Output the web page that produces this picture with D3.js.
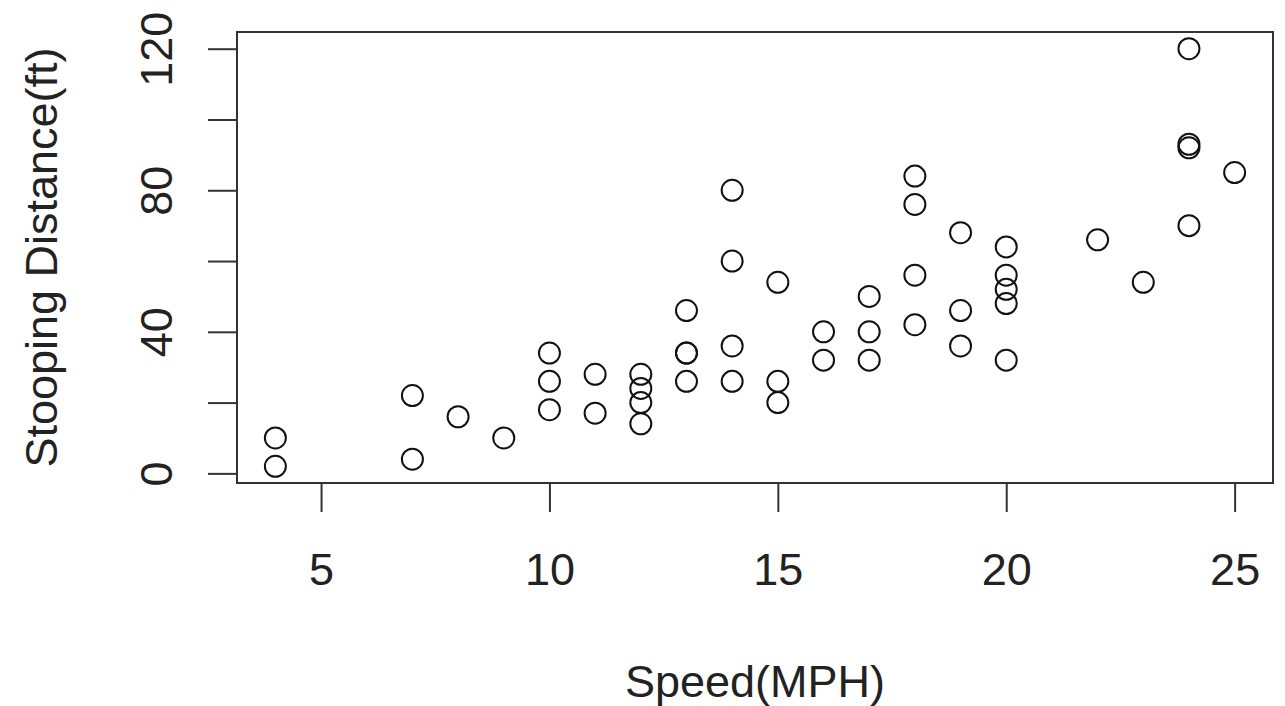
<!DOCTYPE html>
<html>
<head>
<meta charset="utf-8">
<script src="https://cdn.jsdelivr.net/npm/d3@7"></script>
<style>
  html, body { margin: 0; padding: 0; background: #fff; }
  svg { display: block; }
  text { font-family: "Liberation Sans", Arial, Helvetica, sans-serif; fill: #222; }
</style>
</head>
<body>
<svg id="chart" width="1285" height="706"></svg>
<script>
const speed = [4, 4, 7, 7, 8, 9, 10, 10, 10, 11, 11, 12, 12, 12, 12, 13, 13, 13, 13, 14, 14, 14, 14, 15, 15, 15, 16, 16, 17, 17, 17, 18, 18, 18, 18, 19, 19, 19, 20, 20, 20, 20, 20, 22, 23, 24, 24, 24, 24, 25];
const dist  = [2, 10, 4, 22, 16, 10, 18, 26, 34, 17, 28, 14, 20, 24, 28, 26, 34, 34, 46, 26, 36, 60, 80, 20, 26, 54, 32, 40, 32, 40, 50, 42, 56, 76, 84, 36, 46, 68, 32, 48, 52, 56, 64, 66, 54, 70, 92, 93, 120, 85];
const xTicks = [5, 10, 15, 20, 25];
const yTicks = [0, 20, 40, 60, 80, 100, 120];
const yTickLabels = ["0", "", "40", "", "80", "", "120"];
const xTitle = "Speed(MPH)";
const yTitle = "Stooping Distance(ft)";

const svg = d3.select("#chart");
const mLeft = 237, mRight = 1273, mTop = 32, mBottom = 483;

const xExt = d3.extent(speed), yExt = d3.extent(dist);
const xPad = (xExt[1] - xExt[0]) * 0.04, yPad = (yExt[1] - yExt[0]) * 0.04;
const x = d3.scaleLinear().domain([xExt[0] - xPad, xExt[1] + xPad]).range([mLeft, mRight]);
const y = d3.scaleLinear().domain([yExt[0] - yPad, yExt[1] + yPad]).range([mBottom, mTop]);

const stroke = "#333";
const fs = 45;

// box
svg.append("rect")
  .attr("x", mLeft).attr("y", mTop)
  .attr("width", mRight - mLeft).attr("height", mBottom - mTop)
  .attr("fill", "none").attr("stroke", stroke).attr("stroke-width", 2);

// x axis
const xAxis = d3.axisBottom(x).tickValues(xTicks).tickSize(29).tickPadding(0).tickFormat(d3.format("d"));
const gx = svg.append("g").attr("transform", `translate(0,${mBottom})`).call(xAxis);
gx.select(".domain").attr("d", `M${x(xTicks[0])},0H${x(xTicks[xTicks.length-1])}`).attr("stroke", stroke).attr("stroke-width", 2);
gx.selectAll(".tick line").attr("stroke", stroke).attr("stroke-width", 2);
gx.selectAll(".tick text").attr("font-size", fs).attr("fill", "#222")
  .attr("font-family", '"Liberation Sans", Arial, sans-serif').attr("dy", null).attr("y", 102);

// y axis
const yAxis = d3.axisLeft(y).tickValues(yTicks).tickSize(29).tickPadding(0).tickFormat((d, i) => yTickLabels[i]);
const gy = svg.append("g").attr("transform", `translate(${mLeft},0)`).call(yAxis);
gy.select(".domain").attr("d", `M0,${y(yTicks[0])}V${y(yTicks[yTicks.length-1])}`).attr("stroke", stroke).attr("stroke-width", 2);
gy.selectAll(".tick line").attr("stroke", stroke).attr("stroke-width", 2);
gy.selectAll(".tick text").attr("font-size", fs).attr("fill", "#222")
  .attr("font-family", '"Liberation Sans", Arial, sans-serif')
  .attr("x", 0).attr("dy", null).attr("text-anchor", "middle")
  .attr("transform", "translate(-65,0) rotate(-90)");

// points
svg.append("g").selectAll("circle")
  .data(speed.map((s, i) => ({ s, d: dist[i] })))
  .join("circle")
  .attr("cx", p => x(p.s)).attr("cy", p => y(p.d))
  .attr("r", 10.5)
  .attr("fill", "none").attr("stroke", "#111").attr("stroke-width", 2);

// titles
svg.append("text")
  .attr("x", (mLeft + mRight) / 2).attr("y", 697)
  .attr("text-anchor", "middle").attr("font-size", fs)
  .text(xTitle);
svg.append("text")
  .attr("transform", `translate(57,${(mTop + mBottom) / 2}) rotate(-90)`)
  .attr("text-anchor", "middle").attr("font-size", fs)
  .text(yTitle);
</script>
</body>
</html>
